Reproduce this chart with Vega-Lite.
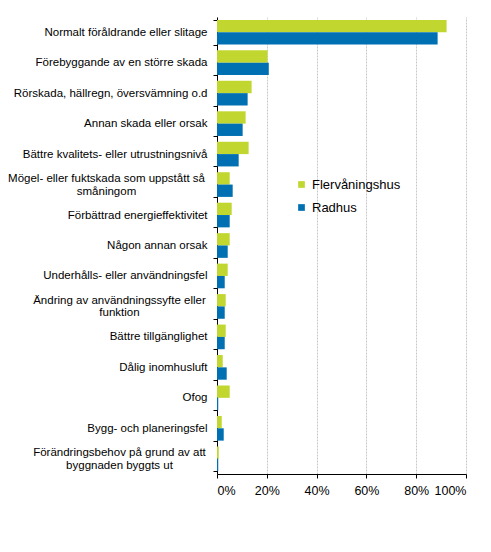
{
  "$schema": "https://vega.github.io/schema/vega-lite/v6.json",
  "width": 249,
  "height": 457,
  "autosize": {"type": "none"},
  "padding": {"left": 217, "top": 17, "right": 25, "bottom": 78},
  "background": "white",
  "data": {
    "values": [
      {"orsak": "Normalt föråldrande eller slitage", "typ": "Flervåningshus", "andel": 92.2},
      {"orsak": "Normalt föråldrande eller slitage", "typ": "Radhus", "andel": 88.6},
      {"orsak": "Förebyggande av en större skada", "typ": "Flervåningshus", "andel": 20.3},
      {"orsak": "Förebyggande av en större skada", "typ": "Radhus", "andel": 20.8},
      {"orsak": "Rörskada, hällregn, översvämning o.d", "typ": "Flervåningshus", "andel": 13.9},
      {"orsak": "Rörskada, hällregn, översvämning o.d", "typ": "Radhus", "andel": 12.3},
      {"orsak": "Annan skada eller orsak", "typ": "Flervåningshus", "andel": 11.5},
      {"orsak": "Annan skada eller orsak", "typ": "Radhus", "andel": 10.3},
      {"orsak": "Bättre kvalitets- eller utrustningsnivå", "typ": "Flervåningshus", "andel": 12.7},
      {"orsak": "Bättre kvalitets- eller utrustningsnivå", "typ": "Radhus", "andel": 8.7},
      {"orsak": "Mögel- eller fuktskada som uppstått så|småningom", "typ": "Flervåningshus", "andel": 5.1},
      {"orsak": "Mögel- eller fuktskada som uppstått så|småningom", "typ": "Radhus", "andel": 6.3},
      {"orsak": "Förbättrad energieffektivitet", "typ": "Flervåningshus", "andel": 5.9},
      {"orsak": "Förbättrad energieffektivitet", "typ": "Radhus", "andel": 5.1},
      {"orsak": "Någon annan orsak", "typ": "Flervåningshus", "andel": 5.1},
      {"orsak": "Någon annan orsak", "typ": "Radhus", "andel": 4.3},
      {"orsak": "Underhålls- eller användningsfel", "typ": "Flervåningshus", "andel": 4.3},
      {"orsak": "Underhålls- eller användningsfel", "typ": "Radhus", "andel": 3.1},
      {"orsak": "Ändring av användningssyfte eller|funktion", "typ": "Flervåningshus", "andel": 3.5},
      {"orsak": "Ändring av användningssyfte eller|funktion", "typ": "Radhus", "andel": 3.1},
      {"orsak": "Bättre tillgänglighet", "typ": "Flervåningshus", "andel": 3.5},
      {"orsak": "Bättre tillgänglighet", "typ": "Radhus", "andel": 3.1},
      {"orsak": "Dålig inomhusluft", "typ": "Flervåningshus", "andel": 2.3},
      {"orsak": "Dålig inomhusluft", "typ": "Radhus", "andel": 3.9},
      {"orsak": "Ofog", "typ": "Flervåningshus", "andel": 5.1},
      {"orsak": "Ofog", "typ": "Radhus", "andel": 0.5},
      {"orsak": "Bygg- och planeringsfel", "typ": "Flervåningshus", "andel": 1.9},
      {"orsak": "Bygg- och planeringsfel", "typ": "Radhus", "andel": 2.7},
      {"orsak": "Förändringsbehov på grund av att|byggnaden byggts ut", "typ": "Flervåningshus", "andel": 0.7},
      {"orsak": "Förändringsbehov på grund av att|byggnaden byggts ut", "typ": "Radhus", "andel": 0.5}
    ]
  },
  "mark": {"type": "bar"},
  "encoding": {
    "y": {
      "field": "orsak",
      "type": "nominal",
      "sort": null,
      "scale": {"paddingInner": 0.19, "paddingOuter": 0.095},
      "axis": {
        "title": null,
        "labelExpr": "split(datum.label, '|')",
        "labelFont": "Liberation Sans",
        "labelFontSize": 11.5,
        "labelColor": "#000000",
        "labelLimit": 230,
        "labelLineHeight": 12.5,
        "labelAlign": {"condition": {"test": "indexof(datum.label, '|') >= 0", "value": "center"}, "value": "right"},
        "labelPadding": {
          "condition": [
            {"test": "indexof(datum.label, 'Mögel') == 0", "value": 107},
            {"test": "indexof(datum.label, '|') >= 0", "value": 94}
          ],
          "value": 6
        },
        "labelOffset": {"condition": {"test": "indexof(datum.label, '|') >= 0", "value": -6}, "value": 0},
        "tickBand": "extent",
        "tickSize": 4,
        "tickColor": "#000000",
        "domainColor": "#000000",
        "grid": false
      }
    },
    "yOffset": {"field": "typ", "type": "nominal", "sort": ["Flervåningshus", "Radhus"]},
    "x": {
      "field": "andel",
      "type": "quantitative",
      "scale": {"domain": [0, 100], "nice": false},
      "axis": {
        "title": null,
        "values": [0, 20, 40, 60, 80, 100],
        "labelExpr": "datum.value + '%'",
        "labelFont": "Liberation Sans",
        "labelFontSize": 12.5,
        "labelColor": "#000000",
        "labelPadding": 6,
        "tickSize": 4,
        "tickColor": "#000000",
        "domainColor": "#000000",
        "grid": true,
        "gridColor": "#c8c8c8",
        "gridDash": [2, 1]
      }
    },
    "color": {
      "field": "typ",
      "type": "nominal",
      "sort": ["Flervåningshus", "Radhus"],
      "scale": {"domain": ["Flervåningshus", "Radhus"], "range": ["#c1d72f", "#0070b2"]},
      "legend": {
        "title": null,
        "orient": "none",
        "legendX": 78,
        "legendY": 161,
        "symbolType": "square",
        "symbolSize": 45,
        "symbolStrokeWidth": 0,
        "labelFont": "Liberation Sans",
        "labelFontSize": 13,
        "labelColor": "#000000",
        "labelOffset": 4,
        "rowPadding": 9
      }
    }
  },
  "config": {
    "view": {"stroke": null},
    "bar": {"opacity": 1}
  }
}
